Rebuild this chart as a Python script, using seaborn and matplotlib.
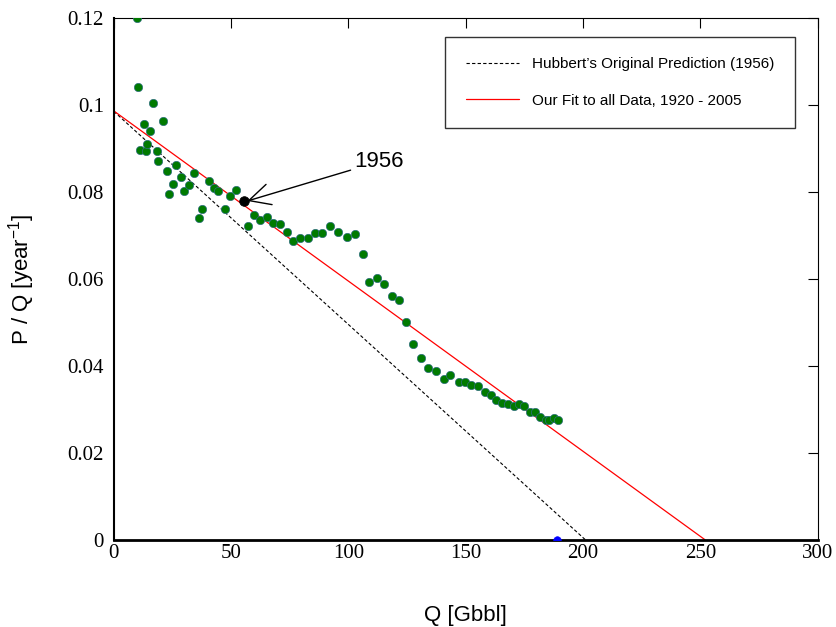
import numpy as np
import pandas as pd
import seaborn as sns
import matplotlib.pyplot as plt

# cumulative production Q [Gbbl] and P/Q [1/year]
q_gbbl = [9.9, 10.5, 11.2, 12.7, 13.5, 14.1, 15.5, 16.7, 18.3, 18.9,
          21.0, 22.5, 23.7, 25.1, 26.5, 28.6, 30.0, 32.1, 34.1, 36.1,
          37.6, 40.4, 42.5, 44.6, 47.3, 49.3, 52.0, 57.0, 59.7, 62.5,
          65.3, 68.0, 70.8, 73.6, 76.3, 79.2, 82.6, 85.9, 88.8, 92.1,
          95.6, 99.2, 102.6, 106.1, 108.7, 112.1, 115.0, 118.5, 121.4, 124.7,
          127.4, 130.9, 133.8, 137.2, 140.6, 143.4, 146.9, 149.7, 152.4, 155.2,
          158.1, 160.8, 162.9, 165.6, 167.8, 170.4, 172.5, 174.6, 177.2, 179.4,
          181.8, 184.0, 185.6, 187.6, 189.5]
pq = [0.1199, 0.1041, 0.0896, 0.0956, 0.0893, 0.0910, 0.0939, 0.1005, 0.0893, 0.0872,
      0.0964, 0.0848, 0.0795, 0.0819, 0.0861, 0.0834, 0.0802, 0.0816, 0.0844, 0.0739,
      0.0760, 0.0826, 0.0808, 0.0803, 0.0760, 0.0791, 0.0805, 0.0721, 0.0746, 0.0736,
      0.0743, 0.0729, 0.0726, 0.0708, 0.0687, 0.0694, 0.0693, 0.0705, 0.0705, 0.0721,
      0.0708, 0.0697, 0.0704, 0.0658, 0.0592, 0.0603, 0.0588, 0.0560, 0.0552, 0.0500,
      0.0451, 0.0417, 0.0395, 0.0389, 0.0370, 0.0378, 0.0364, 0.0364, 0.0357, 0.0353,
      0.0339, 0.0332, 0.0321, 0.0315, 0.0312, 0.0307, 0.0312, 0.0307, 0.0294, 0.0294,
      0.0283, 0.0276, 0.0276, 0.0280, 0.0275]

# 1956 point
q_1956 = [55.4]
pq_1956 = [0.0779]

# blue point on the axis
q_end = [189.0]
pq_end = [0.0]

hubbert_q = [0, 201]
hubbert_pq = [0.0985, 0.0]
fit_q = [0, 252]
fit_pq = [0.0986, 0.0]

xticks = [0, 50, 100, 150, 200, 250, 300]
yticks = [0, 0.02, 0.04, 0.06, 0.08, 0.1, 0.12]
ytick_labels = ['0', '0.02', '0.04', '0.06', '0.08', '0.1', '0.12']

sns.set_style('white')
plt.rcParams['font.family'] = ['Liberation Sans', 'DejaVu Sans']
plt.rcParams['mathtext.default'] = 'regular'
plt.rcParams['text.color'] = 'black'
plt.rcParams['axes.labelcolor'] = 'black'
plt.rcParams['xtick.color'] = 'black'
plt.rcParams['ytick.color'] = 'black'

fig = plt.figure(figsize=(8.37, 6.27), dpi=100)
ax = fig.add_axes([0.136, 0.139, 0.841, 0.8325])

df = pd.DataFrame({'q': q_gbbl, 'pq': pq})
hub = pd.DataFrame({'q': hubbert_q, 'pq': hubbert_pq})
fit = pd.DataFrame({'q': fit_q, 'pq': fit_pq})

sns.lineplot(data=hub, x='q', y='pq', ax=ax, color='black', lw=0.8,
             linestyle=(0, (3, 2)), label="Hubbert\u2019s Original Prediction (1956)")
sns.lineplot(data=fit, x='q', y='pq', ax=ax, color='red', lw=0.9,
             label='Our Fit to all Data, 1920 - 2005')

sns.scatterplot(data=df, x='q', y='pq', ax=ax, color='#007a00', s=36,
                edgecolor='#2f6f80', linewidth=0.5, zorder=3, legend=False)
sns.scatterplot(x=q_1956, y=pq_1956, ax=ax, color='black', s=48,
                edgecolor='black', zorder=4, legend=False)
sns.scatterplot(x=q_end, y=pq_end, ax=ax, color='blue', s=30,
                edgecolor='blue', zorder=4, legend=False)

ax.annotate('1956', xy=(q_1956[0] + 1.5, pq_1956[0]), xytext=(102.3, 0.0845),
            fontsize=16, ha='left', va='bottom',
            arrowprops=dict(arrowstyle='->', color='black', lw=1.0,
                            mutation_scale=38, shrinkA=0, shrinkB=0))

ax.set_xlim(0, 300)
ax.set_ylim(0, 0.12)
ax.set_xticks(xticks)
ax.set_xticklabels([str(t) for t in xticks], family='Liberation Serif', fontsize=15)
ax.set_yticks(yticks)
ax.set_yticklabels(ytick_labels, family='Liberation Serif', fontsize=15)
ax.tick_params(direction='in', length=7, width=0.8, top=True, right=True,
               color='black')
ax.tick_params(axis='x', pad=3)
ax.tick_params(axis='y', pad=7)

for side in ['top', 'right']:
    ax.spines[side].set_linewidth(0.8)
ax.spines['left'].set_linewidth(1.5)
ax.spines['bottom'].set_linewidth(2.0)
for sp in ax.spines.values():
    sp.set_color('black')

ax.set_xlabel('Q [Gbbl]', fontsize=16, labelpad=30)
ax.set_ylabel('P / Q [year$^{-1}$]', fontsize=16, labelpad=22)

leg = ax.legend(loc='upper right', bbox_to_anchor=(0.967, 0.9636),
                borderaxespad=0, fontsize=11, handlelength=3.5,
                handletextpad=0.8, labelspacing=1.45, borderpad=1.35,
                fancybox=False, frameon=True)
leg.get_frame().set_edgecolor('black')
leg.get_frame().set_linewidth(1.0)

fig.savefig('out.png', dpi=100)
